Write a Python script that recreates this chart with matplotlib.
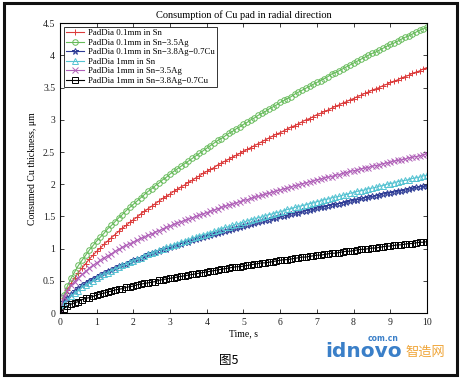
import numpy as np
import matplotlib
matplotlib.use("Agg")
import matplotlib.pyplot as plt
from matplotlib.patches import Rectangle
from matplotlib.ticker import FormatStrFormatter

# time axis, 0.1 s step
t = np.arange(0, 101) / 10.0

# PadDia 0.1mm in Sn
pad01_sn = [0, 0.24, 0.36, 0.46, 0.55, 0.63, 0.70, 0.77, 0.84, 0.90,
            0.96, 1.01, 1.07, 1.12, 1.17, 1.22, 1.27, 1.32, 1.36, 1.41,
            1.45, 1.49, 1.54, 1.58, 1.62, 1.66, 1.70, 1.74, 1.78, 1.81,
            1.85, 1.89, 1.92, 1.96, 1.99, 2.03, 2.06, 2.10, 2.13, 2.17,
            2.20, 2.23, 2.26, 2.30, 2.33, 2.36, 2.39, 2.42, 2.45, 2.48,
            2.51, 2.54, 2.57, 2.60, 2.63, 2.66, 2.69, 2.72, 2.75, 2.78,
            2.80, 2.83, 2.86, 2.89, 2.91, 2.94, 2.97, 3.00, 3.02, 3.05,
            3.08, 3.10, 3.13, 3.15, 3.18, 3.21, 3.23, 3.26, 3.28, 3.31,
            3.33, 3.36, 3.38, 3.41, 3.43, 3.46, 3.48, 3.50, 3.53, 3.55,
            3.58, 3.60, 3.62, 3.65, 3.67, 3.69, 3.72, 3.74, 3.76, 3.79,
            3.81]
# PadDia 0.1mm in Sn-3.5Ag
pad01_snag = [0, 0.28, 0.42, 0.54, 0.64, 0.74, 0.82, 0.90, 0.98, 1.05,
              1.12, 1.18, 1.24, 1.31, 1.36, 1.42, 1.48, 1.53, 1.59, 1.64,
              1.69, 1.74, 1.79, 1.84, 1.89, 1.93, 1.98, 2.02, 2.07, 2.11,
              2.16, 2.20, 2.24, 2.28, 2.32, 2.36, 2.40, 2.44, 2.48, 2.52,
              2.56, 2.60, 2.64, 2.68, 2.71, 2.75, 2.79, 2.82, 2.86, 2.89,
              2.93, 2.96, 3.00, 3.03, 3.07, 3.10, 3.13, 3.17, 3.20, 3.23,
              3.27, 3.30, 3.33, 3.36, 3.40, 3.43, 3.46, 3.49, 3.52, 3.55,
              3.58, 3.61, 3.64, 3.67, 3.71, 3.73, 3.76, 3.79, 3.82, 3.85,
              3.88, 3.91, 3.94, 3.97, 4.00, 4.03, 4.05, 4.08, 4.11, 4.14,
              4.17, 4.19, 4.22, 4.25, 4.28, 4.30, 4.33, 4.36, 4.39, 4.41,
              4.44]
# PadDia 0.1mm in Sn-3.8Ag-0.7Cu
pad01_sac = [0, 0.17, 0.24, 0.29, 0.34, 0.39, 0.43, 0.46, 0.50, 0.53,
             0.56, 0.59, 0.62, 0.65, 0.67, 0.70, 0.73, 0.75, 0.77, 0.80,
             0.82, 0.84, 0.86, 0.88, 0.91, 0.93, 0.95, 0.97, 0.99, 1.00,
             1.02, 1.04, 1.06, 1.08, 1.10, 1.11, 1.13, 1.15, 1.16, 1.18,
             1.20, 1.21, 1.23, 1.25, 1.26, 1.28, 1.29, 1.31, 1.32, 1.34,
             1.35, 1.37, 1.38, 1.40, 1.41, 1.43, 1.44, 1.45, 1.47, 1.48,
             1.50, 1.51, 1.52, 1.54, 1.55, 1.56, 1.58, 1.59, 1.60, 1.61,
             1.63, 1.64, 1.65, 1.67, 1.68, 1.69, 1.70, 1.71, 1.73, 1.74,
             1.75, 1.76, 1.78, 1.79, 1.80, 1.81, 1.82, 1.83, 1.85, 1.86,
             1.87, 1.88, 1.89, 1.90, 1.91, 1.92, 1.94, 1.95, 1.96, 1.97,
             1.98]
# PadDia 1mm in Sn
pad1_sn = [0, 0.14, 0.20, 0.26, 0.31, 0.35, 0.40, 0.43, 0.47, 0.50,
           0.54, 0.57, 0.60, 0.63, 0.66, 0.69, 0.71, 0.74, 0.76, 0.79,
           0.81, 0.84, 0.86, 0.89, 0.91, 0.93, 0.95, 0.98, 1.00, 1.02,
           1.04, 1.06, 1.08, 1.10, 1.12, 1.14, 1.16, 1.18, 1.20, 1.22,
           1.23, 1.25, 1.27, 1.29, 1.31, 1.33, 1.34, 1.36, 1.38, 1.39,
           1.41, 1.43, 1.45, 1.46, 1.48, 1.49, 1.51, 1.53, 1.54, 1.56,
           1.57, 1.59, 1.61, 1.62, 1.64, 1.65, 1.67, 1.68, 1.70, 1.71,
           1.73, 1.74, 1.76, 1.77, 1.79, 1.80, 1.81, 1.83, 1.84, 1.86,
           1.87, 1.89, 1.90, 1.91, 1.93, 1.94, 1.95, 1.97, 1.98, 2.00,
           2.01, 2.02, 2.04, 2.05, 2.06, 2.07, 2.09, 2.10, 2.11, 2.13,
           2.14]
# PadDia 1mm in Sn-3.5Ag
pad1_snag = [0, 0.25, 0.35, 0.43, 0.49, 0.55, 0.60, 0.65, 0.70, 0.74,
             0.78, 0.82, 0.86, 0.89, 0.92, 0.96, 0.99, 1.02, 1.05, 1.08,
             1.10, 1.13, 1.16, 1.18, 1.21, 1.23, 1.26, 1.28, 1.31, 1.33,
             1.35, 1.38, 1.40, 1.42, 1.44, 1.46, 1.48, 1.50, 1.52, 1.54,
             1.56, 1.58, 1.60, 1.62, 1.64, 1.66, 1.68, 1.69, 1.71, 1.73,
             1.75, 1.76, 1.78, 1.80, 1.81, 1.83, 1.85, 1.86, 1.88, 1.90,
             1.91, 1.93, 1.94, 1.96, 1.98, 1.99, 2.01, 2.02, 2.04, 2.05,
             2.07, 2.08, 2.10, 2.11, 2.12, 2.14, 2.15, 2.17, 2.18, 2.20,
             2.21, 2.22, 2.24, 2.25, 2.26, 2.28, 2.29, 2.30, 2.32, 2.33,
             2.34, 2.36, 2.37, 2.38, 2.39, 2.41, 2.42, 2.43, 2.44, 2.46,
             2.47]
# PadDia 1mm in Sn-3.8Ag-0.7Cu
pad1_sac = [0, 0.07, 0.11, 0.14, 0.16, 0.18, 0.21, 0.23, 0.24, 0.26,
            0.28, 0.30, 0.31, 0.33, 0.34, 0.36, 0.37, 0.38, 0.40, 0.41,
            0.42, 0.44, 0.45, 0.46, 0.47, 0.48, 0.49, 0.51, 0.52, 0.53,
            0.54, 0.55, 0.56, 0.57, 0.58, 0.59, 0.60, 0.61, 0.62, 0.63,
            0.64, 0.65, 0.66, 0.67, 0.68, 0.69, 0.70, 0.71, 0.72, 0.72,
            0.73, 0.74, 0.75, 0.76, 0.77, 0.78, 0.78, 0.79, 0.80, 0.81,
            0.82, 0.83, 0.83, 0.84, 0.85, 0.86, 0.87, 0.87, 0.88, 0.89,
            0.90, 0.90, 0.91, 0.92, 0.93, 0.93, 0.94, 0.95, 0.96, 0.96,
            0.97, 0.98, 0.99, 0.99, 1.00, 1.01, 1.01, 1.02, 1.03, 1.04,
            1.04, 1.05, 1.06, 1.06, 1.07, 1.08, 1.08, 1.09, 1.10, 1.10,
            1.11]

labels = ['PadDia 0.1mm in Sn', 'PadDia 0.1mm in Sn\u22123.5Ag',
          'PadDia 0.1mm in Sn\u22123.8Ag\u22120.7Cu', 'PadDia 1mm in Sn',
          'PadDia 1mm in Sn\u22123.5Ag', 'PadDia 1mm in Sn\u22123.8Ag\u22120.7Cu']
series = [pad01_sn, pad01_snag, pad01_sac, pad1_sn, pad1_snag, pad1_sac]
colors = ['#dc3c3c', '#66bb5a', '#2e3c96', '#55c3d2', '#b060b8', '#000000']
markers = ['+', 'o', '*', '^', 'x', 's']
msizes = [5, 4, 4.5, 4, 3.8, 3.8]

plt.rcParams['font.family'] = ['Liberation Serif', 'Noto Sans CJK SC', 'DejaVu Sans']

fig = plt.figure(figsize=(4.62, 3.80), dpi=100)
ax = fig.add_axes([0.130, 0.176, 0.794, 0.763])

for y, lab, c, m, ms in zip(series, labels, colors, markers, msizes):
    ax.plot(t, y, color=c, marker=m, markersize=ms, markerfacecolor='none',
            markeredgewidth=0.7, linewidth=0.8, label=lab)

ax.set_xlim(0, 10)
ax.set_ylim(0, 4.5)
ax.set_xticks(np.arange(0, 11, 1))
ax.set_yticks(np.arange(0, 4.51, 0.5))
ax.yaxis.set_major_formatter(FormatStrFormatter('%g'))
ax.tick_params(direction='in', top=True, right=True, labelsize=7,
               length=3, width=0.6, colors='#222222')
for s in ax.spines.values():
    s.set_linewidth(0.8)

ax.set_title('Consumption of Cu pad in radial direction', fontsize=7.5, pad=4)
ax.set_xlabel('Time, s', fontsize=7, labelpad=2)
ax.set_ylabel('Consumed Cu thickness, \u03bcm', fontsize=7, labelpad=4)

leg = ax.legend(loc='upper left', fontsize=6.3, frameon=True, fancybox=False,
                edgecolor='black', borderpad=0.3, labelspacing=0.15,
                handlelength=2.0, handletextpad=0.5, borderaxespad=0.4)
leg.get_frame().set_linewidth(0.7)

fig.text(0.495, 0.052, '图5', fontsize=9, ha='center', va='center',
         family=['Noto Sans CJK SC'])

# watermark
fig.text(0.703, 0.074, 'idnovo', fontsize=14.5, fontweight='bold', color='#3a7fc8',
         ha='left', va='center', family=['DejaVu Sans'])
fig.text(0.877, 0.072, '智造网', fontsize=9.5, color='#f0a63a',
         ha='left', va='center', family=['Noto Sans CJK SC'])
fig.text(0.829, 0.108, 'com.cn', fontsize=5.5, color='#3a7fc8', fontweight='bold',
         ha='center', va='center', family=['DejaVu Sans'])

# outer frame
fig.patches.append(Rectangle((0.008, 0.013), 0.981, 0.979, transform=fig.transFigure,
                             fill=False, edgecolor='#111111', linewidth=2.2))

fig.savefig('out.png', dpi=100)
